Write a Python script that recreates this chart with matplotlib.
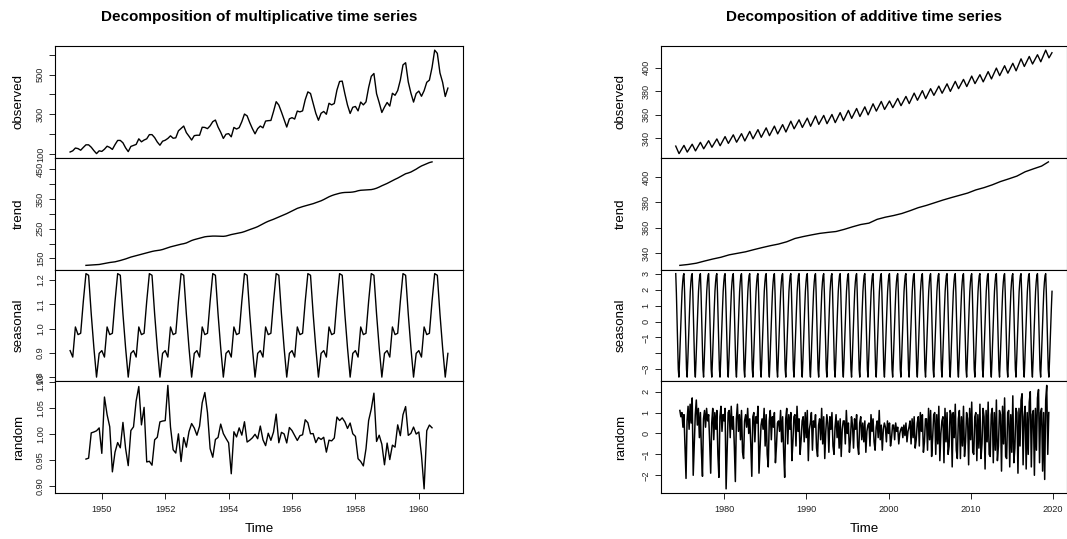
import numpy as np
import matplotlib
matplotlib.use("Agg")
import matplotlib.pyplot as plt

plt.rcParams['font.family'] = ['Liberation Sans', 'DejaVu Sans']

# ------------------------------------------------------------------
# Left chart: monthly airline passengers 1949-1960 (multiplicative)
# ------------------------------------------------------------------
air_start = 1949.0
air_frequency = 12
air_passengers = [
    112, 118, 132, 129, 121, 135, 148, 148, 136, 119, 104, 118,
    115, 126, 141, 135, 125, 149, 170, 170, 158, 133, 114, 140,
    145, 150, 178, 163, 172, 178, 199, 199, 184, 162, 146, 166,
    171, 180, 193, 181, 183, 218, 230, 242, 209, 191, 172, 194,
    196, 196, 236, 235, 229, 243, 264, 272, 237, 211, 180, 201,
    204, 188, 235, 227, 234, 264, 302, 293, 259, 229, 203, 229,
    242, 233, 267, 269, 270, 315, 364, 347, 312, 274, 237, 278,
    284, 277, 317, 313, 318, 374, 413, 405, 355, 306, 271, 306,
    315, 301, 356, 348, 355, 422, 465, 467, 404, 347, 305, 336,
    340, 318, 362, 348, 363, 435, 491, 505, 404, 359, 310, 337,
    360, 342, 406, 396, 420, 472, 548, 559, 463, 407, 362, 405,
    417, 391, 419, 461, 472, 535, 622, 606, 508, 461, 390, 432,
]
air_seasonal_figure = [0.9102, 0.8836, 1.0074, 0.9759, 0.9814, 1.1128,
                       1.2266, 1.2199, 1.0605, 0.9218, 0.8012, 0.8988]

# ------------------------------------------------------------------
# Right chart: weekly CO2 (additive)
# ------------------------------------------------------------------
co2_start = 1974.12
co2_end = 2019.88
co2_trough_offset = 0.40
# yearly seasonal maxima and minima of the observed series, 1974-2019
co2_peaks = [333.4, 334.0, 335.0, 336.6, 338.0, 339.5, 341.5, 343.0, 344.0, 345.9,
             347.4, 348.9, 350.4, 351.7, 354.6, 355.8, 357.2, 359.1, 359.5, 360.3,
             361.9, 363.8, 365.4, 366.8, 369.4, 371.4, 371.8, 374.0, 375.7, 378.5,
             380.6, 382.3, 384.5, 386.4, 388.5, 390.2, 393.0, 394.2, 396.8, 399.8,
             401.8, 403.9, 407.7, 409.7, 411.2, 415.1]
co2_troughs = [327.0, 328.3, 329.3, 331.1, 332.4, 333.7, 335.7, 336.7, 337.8, 339.6,
               340.9, 342.3, 343.8, 345.4, 348.1, 349.3, 350.3, 351.9, 352.5, 353.4,
               355.1, 357.0, 358.6, 360.0, 363.2, 364.6, 366.1, 367.8, 369.6, 372.4,
               373.8, 376.6, 378.4, 380.0, 382.3, 384.1, 386.6, 388.1, 390.6, 393.4,
               395.5, 397.5, 401.2, 403.3, 405.2, 408.5]
co2_last_value = 412.9

co2_trend_start = 1974.62
co2_trend_end = 2019.45
co2_trend = [330.4, 331.1, 332.1, 333.8, 335.4, 336.8, 338.7, 339.9, 341.1, 342.8,
             344.4, 345.9, 347.2, 349.0, 351.6, 353.1, 354.4, 355.6, 356.4, 357.1,
             358.8, 360.8, 362.6, 363.7, 366.7, 368.4, 369.7, 371.3, 373.5, 375.9,
             377.7, 379.8, 381.9, 383.8, 385.6, 387.4, 389.9, 391.7, 393.9, 396.5,
             398.6, 400.8, 404.2, 406.5, 408.7, 412.0]

# one period of the seasonal figure, sampled every 4 weeks (13 per year)
co2_seasonal_figure = [3.01, 1.8, 0.2, -1.6, -3.0, -3.49, -2.5, -1.3, -0.2, 0.9, 1.9, 2.5, 2.9]
co2_seasonal_per_year = 13

# remainder, 8 readings per year from 1974.62
co2_random_start = 1974.62
co2_random_per_year = 8
co2_random = [
    1.1, 0.8, 1.0, 0.3, 0.9, -0.6, -2.15, 0.6,
    1.3, 0.2, 1.4, 0.5, 1.7, -2.0, -0.5, 0.9,
    1.6, 0.4, 1.2, -0.2, 1.0, -0.9, -2.05, 0.7,
    1.1, 0.3, 1.2, 0.6, 0.9, -0.4, -1.9, 0.5,
    1.2, -0.3, 1.0, 0.2, 1.1, -1.0, -2.1, 0.8,
    1.3, 0.1, 0.9, 0.6, 1.2, -2.65, -0.8, 1.0,
    1.1, -0.2, 1.3, 0.2, 0.8, -0.6, -2.3, 0.7,
    1.4, 0.1, 0.9, -0.3, 1.1, -0.9, -1.2, 0.6,
    0.9, 0.3, 1.2, 0.0, 0.7, -0.5, -2.05, 0.8,
    1.0, -0.4, 0.8, 0.5, 1.3, -1.9, -0.8, 0.4,
    0.7, 0.2, 1.2, -0.6, 0.9, -1.0, -1.6, 0.6,
    1.1, -0.3, 0.8, 0.3, 1.0, -1.4, -0.6, 0.5,
    0.6, 0.1, 1.1, -0.4, 0.8, -0.9, -2.1, 0.7,
    1.2, -0.5, 0.9, 0.2, 1.0, -1.3, -0.4, 0.8,
    0.9, -0.6, 1.3, 0.1, 0.7, -1.0, -0.3, 0.6,
    0.8, -0.4, 1.0, -0.2, 1.1, -1.3, 0.2, 0.5,
    1.0, -0.8, 0.6, 0.3, 0.9, -0.7, -1.1, 0.4,
    0.7, -0.3, 1.2, -0.5, 0.8, -1.2, 0.1, 0.9,
    0.5, -0.9, 0.8, 0.2, 1.0, -0.6, -1.0, 0.3,
    0.9, -0.2, 0.6, -0.7, 0.7, -1.1, 0.2, 0.6,
    0.6, -0.5, 1.1, 0.0, 0.5, -0.9, -0.3, 0.8,
    0.4, -0.7, 0.7, 0.2, 0.9, -0.6, -1.0, 0.5,
    0.8, -0.3, 0.5, -0.4, 0.6, -0.9, 0.1, 0.4,
    0.5, -0.6, 0.9, 0.1, 0.7, -0.4, -0.8, 0.3,
    0.6, -0.2, 1.1, -0.3, 0.4, -0.8, 0.2, 0.5,
    0.3, -0.4, 0.6, 0.0, 0.5, -0.6, -0.2, 0.4,
    0.4, -0.3, 0.5, 0.1, 0.3, -0.5, 0.0, 0.2,
    0.3, -0.2, 0.4, -0.1, 0.5, -0.4, 0.1, 0.3,
    0.6, -0.5, 0.7, -0.2, 0.8, -0.7, -0.3, 0.5,
    0.8, -0.6, 1.0, 0.1, 0.9, -0.9, -0.4, 0.7,
    0.7, -0.8, 1.2, -0.3, 1.1, -1.1, -0.2, 0.9,
    1.0, -1.0, 0.9, -0.5, 1.3, -1.3, 0.0, 0.6,
    0.8, -1.4, 1.2, -0.4, 1.0, -1.0, -0.6, 1.1,
    0.9, -1.6, 1.0, -0.2, 1.4, -0.8, -1.2, 0.7,
    1.1, -1.2, 0.8, -0.6, 1.3, -1.1, -0.4, 1.0,
    0.7, -1.5, 1.2, -0.3, 1.5, -0.9, -1.0, 0.8,
    1.0, -1.3, 0.9, -0.7, 1.4, -1.2, -0.5, 1.2,
    0.8, -1.7, 1.1, -0.4, 1.5, -1.0, -1.1, 0.9,
    1.2, -1.4, 1.0, -0.8, 1.6, -1.3, -0.6, 1.1,
    0.9, -1.8, 1.3, -0.5, 1.7, -1.1, -1.2, 1.0,
    1.1, -1.6, 0.9, -0.9, 1.8, -1.4, -0.7, 1.2,
    1.0, -1.9, 1.2, -0.6, 1.6, 1.9, -1.5, 0.8,
    1.3, -1.7, 1.0, -1.0, 1.5, 2.0, -1.6, 0.9,
    1.1, -2.0, 1.2, -0.8, 1.7, 2.1, -1.4, 1.0,
    1.2, -1.8, 1.0, -2.2, 1.6, 2.3, -1.0, 1.0,
]

# ------------------------------------------------------------------
# Derived series
# ------------------------------------------------------------------
air_x = np.asarray(air_passengers, dtype=float)
air_t = air_start + np.arange(len(air_x)) / air_frequency
w = np.r_[0.5, np.ones(air_frequency - 1), 0.5] / air_frequency
air_trend = np.convolve(air_x, w, mode="valid")  # centred moving average
half = air_frequency // 2
air_trend_t = air_t[half:half + len(air_trend)]
air_seasonal = np.resize(np.asarray(air_seasonal_figure), len(air_x))
air_random = air_x[half:half + len(air_trend)] / (air_trend * air_seasonal[half:half + len(air_trend)])

obs_t, obs_v = [], []
for k, (p, tr) in enumerate(zip(co2_peaks, co2_troughs)):
    obs_t += [co2_start + k, co2_start + k + co2_trough_offset]
    obs_v += [p, tr]
obs_t.append(co2_end)
obs_v.append(co2_last_value)

trend_t = np.append(co2_trend_start + np.arange(len(co2_trend) - 1), co2_trend_end)

n_seas = int(round((co2_end - co2_start) * co2_seasonal_per_year)) + 1
seas_v = np.resize(np.asarray(co2_seasonal_figure), n_seas)
seas_t = co2_start + np.arange(n_seas) / co2_seasonal_per_year

rand_t = co2_random_start + np.arange(len(co2_random)) / co2_random_per_year

# ------------------------------------------------------------------
# Drawing (R-like stacked panels)
# ------------------------------------------------------------------
W, H = 1067, 539
fig = plt.figure(figsize=(W / 100, H / 100), dpi=100)

top_px, bot_px = 46, 493
ph = (bot_px - top_px) / 4
LW = 1.0
TICK_FS = 6.6
LAB_FS = 9.6


def make_axes(left_px, width_px):
    axes = []
    for i in range(4):
        b = H - (top_px + ph * (i + 1))
        ax = fig.add_axes([left_px / W, b / H, width_px / W, ph / H])
        for s in ax.spines.values():
            s.set_linewidth(0.8)
            s.set_color("black")
        ax.tick_params(axis="y", length=4.3, width=0.7, pad=3.0, labelsize=TICK_FS,
                       colors="#222222")
        ax.tick_params(axis="x", length=4.3, width=0.7, pad=4.0, labelsize=TICK_FS,
                       colors="#222222")
        if i < 3:
            ax.tick_params(axis="x", bottom=False, labelbottom=False)
        axes.append(ax)
    return axes


def set_yaxis(ax, ticks, labels, label, lab_off):
    ax.set_yticks(ticks)
    ax.set_yticklabels(labels)
    for t in ax.get_yticklabels():
        t.set_rotation(90)
        t.set_va("center")
    ax.set_ylabel(label, fontsize=LAB_FS, va="center")
    ax.yaxis.set_label_coords(lab_off, 0.5)


def r_limits(ax, vals):
    vals = np.asarray(vals, dtype=float)
    lo, hi = np.nanmin(vals), np.nanmax(vals)
    r = hi - lo
    ax.set_ylim(lo - 0.04 * r, hi + 0.04 * r)


# ---- left
L = make_axes(55, 408)
air_rng = air_t[-1] - air_t[0]
for ax in L:
    ax.set_xlim(air_t[0] - 0.04 * air_rng, air_t[-1] + 0.04 * air_rng)
L[0].plot(air_t, air_x, color="black", lw=LW)
L[1].plot(air_trend_t, air_trend, color="black", lw=LW)
L[2].plot(air_t, air_seasonal, color="black", lw=LW)
L[3].plot(air_trend_t, air_random, color="black", lw=LW)
r_limits(L[0], air_x)
r_limits(L[1], air_trend)
r_limits(L[2], air_seasonal)
r_limits(L[3], air_random)
loff = -36 / 408
set_yaxis(L[0], [100, 200, 300, 400, 500, 600], ["100", "", "300", "", "500", ""], "observed", loff)
set_yaxis(L[1], [150, 200, 250, 300, 350, 400, 450], ["150", "", "250", "", "350", "", "450"], "trend", loff)
set_yaxis(L[2], [0.8, 0.9, 1.0, 1.1, 1.2], ["0.8", "0.9", "1.0", "1.1", "1.2"], "seasonal", loff)
set_yaxis(L[3], [0.90, 0.95, 1.00, 1.05, 1.10], ["0.90", "0.95", "1.00", "1.05", "1.10"], "random", loff)
L[3].set_xticks([1950, 1952, 1954, 1956, 1958, 1960])
L[3].set_xlabel("Time", fontsize=LAB_FS)
L[3].xaxis.set_label_coords(0.5, -36 / ph)
L[3].xaxis.label.set_va("center")

# ---- right
R = make_axes(660.7, 406.3)
co2_rng = co2_end - co2_start
for ax in R:
    ax.set_xlim(co2_start - 0.04 * co2_rng, co2_end + 0.04 * co2_rng)
R[0].plot(obs_t, obs_v, color="black", lw=LW)
R[1].plot(trend_t, co2_trend, color="black", lw=LW)
R[2].plot(seas_t, seas_v, color="black", lw=LW)
R[3].plot(rand_t, co2_random, color="black", lw=LW * 1.1)
r_limits(R[0], obs_v)
r_limits(R[1], co2_trend)
r_limits(R[2], seas_v)
r_limits(R[3], co2_random)
roff = -40 / 406.3
set_yaxis(R[0], [340, 360, 380, 400], ["340", "360", "380", "400"], "observed", roff)
set_yaxis(R[1], [340, 360, 380, 400], ["340", "360", "380", "400"], "trend", roff)
set_yaxis(R[2], [-3, -2, -1, 0, 1, 2, 3], ["\u22123", "", "\u22121", "0", "1", "2", "3"], "seasonal", roff)
set_yaxis(R[3], [-2, -1, 0, 1, 2], ["\u22122", "\u22121", "0", "1", "2"], "random", roff)
R[3].set_xticks([1980, 1990, 2000, 2010, 2020])
R[3].set_xlabel("Time", fontsize=LAB_FS)
R[3].xaxis.set_label_coords(0.5, -36 / ph)
R[3].xaxis.label.set_va("center")

# titles
fig.text((55 + 463) / 2 / W, 1 - 17.5 / H, "Decomposition of multiplicative time series",
         ha="center", va="center", fontsize=11.0, fontweight="bold")
fig.text((660.7 + 1067) / 2 / W, 1 - 17.5 / H, "Decomposition of additive time series",
         ha="center", va="center", fontsize=11.0, fontweight="bold")

fig.savefig("out.png", dpi=100)
